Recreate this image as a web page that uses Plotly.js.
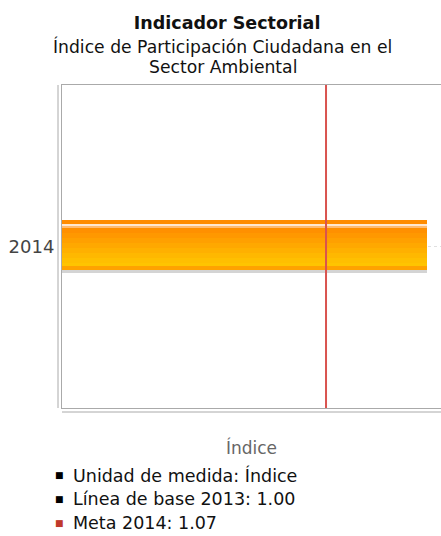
<!DOCTYPE html>
<html>
<head>
<meta charset="utf-8">
<script src="https://cdn.plot.ly/plotly-3.0.1.min.js"></script>
<style>html,body{margin:0;padding:0;background:#fff;}#chart{width:441px;height:536px;}</style>
</head>
<body>
<div id="chart"></div>
<script>
// ---- data ----
var categories = ['2014'];
var values = [1.48];
var metaValue = 1.07;
var baseValue = 1.00;
var xRange = [0, 1.536];
var titleText = 'Indicador Sectorial';
var subtitleLines = ['Índice de Participación Ciudadana en el', 'Sector Ambiental'];
var legendLines = ['Unidad de medida: Índice', 'Línea de base 2013: 1.00', 'Meta 2014: 1.07'];
var legendColors = ['#000000', '#000000', '#c0392b'];

var FONT = 'DejaVu Sans, sans-serif';

// glossy bar look: bands [pxFromTop, pxHeight, colour] (styling only)
var bandStyle = [
  [0, 53, '#d4d4d4'],
  [0, 4, '#ff8c00'],
  [4, 2, '#ffe8d0'],
  [6, 2, '#ffbb70'],
  [8, 5, '#ff9000'],
  [13, 5, '#ff9800'],
  [18, 5, '#ffa000'],
  [23, 5, '#ffa800'],
  [28, 5, '#ffb000'],
  [33, 5, '#ffb800'],
  [38, 5, '#ffbf00'],
  [43, 3, '#ffc400'],
  [46, 4, '#ffa200']
];
var plotH = 323;
var halfPx = 26.5;
var traces = [];
for (var i=0;i<bandStyle.length;i++){
  var p0 = bandStyle[i][0], h = bandStyle[i][1];
  var extra = (i===0) ? 0 : 0.5;
  traces.push({type:'bar', orientation:'h', y:categories, x:values,
    width:(h+extra)/plotH, offset:(halfPx - p0 - h)/plotH,
    marker:{color:bandStyle[i][2], line:{width:0}}, hoverinfo:'skip', showlegend:false});
}

var annotations = [];
for (var s=0;s<subtitleLines.length;s++){
  annotations.push({xref:'paper', yref:'paper', x:0.5, y:1, xanchor:'center', yanchor:'middle',
    xshift:-29, yshift:38.5 - s*20, text:subtitleLines[s], showarrow:false,
    font:{family:FONT, size:17.2, color:'#111'}});
}
for (var k=0;k<legendLines.length;k++){
  annotations.push({xref:'paper', yref:'paper', x:0, y:0, xanchor:'left', yanchor:'middle',
    xshift:9, yshift:-67 - k*24, text:legendLines[k], showarrow:false,
    font:{family:FONT, size:17.5, color:'#111'}});
  annotations.push({xref:'paper', yref:'paper', x:0, y:0, xanchor:'center', yanchor:'middle',
    xshift:-3, yshift:-67 - k*24, text:'■', showarrow:false,
    font:{family:FONT, size:9, color:legendColors[k]}});
}

var layout = {
  width:441, height:536,
  margin:{l:62, r:0, t:85, b:128},
  paper_bgcolor:'#fff', plot_bgcolor:'#fff',
  barmode:'overlay',
  bargap:0,
  title:{text:'<b>'+titleText+'</b>', x:0.515, xanchor:'center', y:0.968, yanchor:'top',
    font:{family:FONT, size:17.5, color:'#111'}},
  xaxis:{range:xRange, showticklabels:false, showgrid:false, zeroline:false, ticks:'',
    showline:true, mirror:true, linecolor:'#aaa', linewidth:1,
    title:{text:'Índice', font:{family:FONT, size:17, color:'#666'}, standoff:34}},
  yaxis:{type:'category', range:[-0.5,0.5], showline:true, linecolor:'#aaa', linewidth:1,
    showgrid:true, gridcolor:'#e0e0e0', griddash:'dot', ticks:'', ticklabelstandoff:3,
    tickfont:{family:FONT, size:18, color:'#444'}},
  shapes:[
    {type:'line', xref:'x', yref:'paper', x0:metaValue, x1:metaValue, y0:0, y1:1,
      line:{color:'#d9534f', width:2}, layer:'above'},
    {type:'line', xref:'paper', yref:'paper', xsizemode:'pixel', xanchor:0, x0:-4, x1:-4, y0:0, y1:1,
      line:{color:'#aaa', width:1}},
    {type:'line', xref:'paper', yref:'paper', ysizemode:'pixel', yanchor:0, y0:-4, y1:-4, x0:0, x1:1,
      line:{color:'#aaa', width:1}}
  ],
  annotations:annotations
};

Plotly.newPlot('chart', traces, layout, {displayModeBar:false, staticPlot:true});
</script>
</body>
</html>
